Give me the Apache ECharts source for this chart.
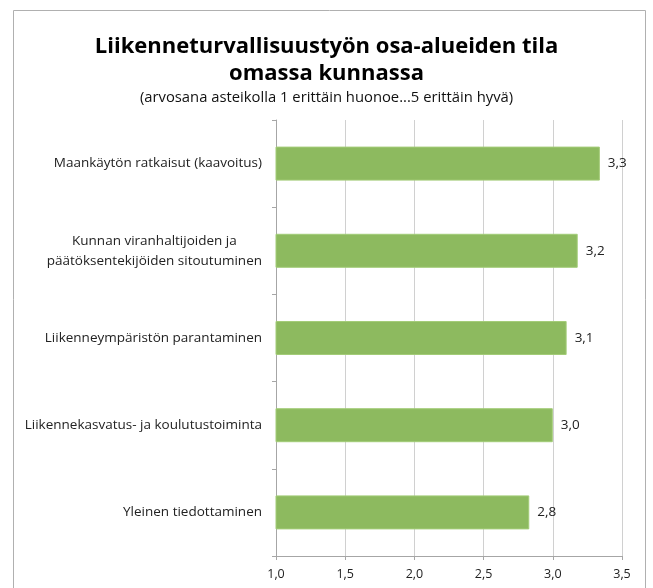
<!DOCTYPE html>
<html><head><meta charset="utf-8">
<script src="https://cdn.jsdelivr.net/npm/echarts@6/dist/echarts.min.js"></script>
<style>html,body{margin:0;padding:0;background:#fff}#c{width:653px;height:588px}</style>
</head><body><div id="c"></div>
<script>
const categories = [
  'Maankäytön ratkaisut (kaavoitus)',
  'Kunnan viranhaltijoiden ja\npäätöksentekijöiden sitoutuminen',
  'Liikenneympäristön parantaminen',
  'Liikennekasvatus- ja koulutustoiminta',
  'Yleinen tiedottaminen'
];
const values = [3.34, 3.18, 3.10, 3.00, 2.83];
const xTicks = [1.0, 1.5, 2.0, 2.5, 3.0, 3.5];

const fmt = v => v.toFixed(1).replace('.', ',');
const FONT = 'Open Sans';

const chart = echarts.init(document.getElementById('c'), null, {renderer: 'canvas'});
chart.setOption({
  animation: false,
  backgroundColor: '#fff',
  graphic: [{
    type: 'rect', shape: {x: 13.5, y: 10.5, width: 632, height: 600},
    style: {fill: 'none', stroke: '#b0b0b0', lineWidth: 1}, silent: true, z: -1
  }],
  title: [
    {text: 'Liikenneturvallisuustyön osa-alueiden tila\nomassa kunnassa', left: 'center', top: 28,
     textStyle: {fontFamily: FONT, fontWeight: 'bold', fontSize: 22, lineHeight: 27, color: '#000'}},
    {text: '(arvosana asteikolla 1 erittäin huonoe...5 erittäin hyvä)', left: 'center', top: 85,
     textStyle: {fontFamily: FONT, fontWeight: 'normal', fontSize: 14.8, color: '#111'}}
  ],
  grid: {left: 276, right: 31, top: 120, bottom: 32, containLabel: false},
  xAxis: {
    type: 'value', min: xTicks[0], max: xTicks[xTicks.length - 1], interval: 0.5,
    axisLine: {show: true, lineStyle: {color: '#a6a6a6'}},
    axisTick: {show: true, length: 4, lineStyle: {color: '#a6a6a6'}},
    splitLine: {show: true, lineStyle: {color: '#d0d0d0', width: 1}},
    axisLabel: {formatter: v => fmt(v), fontFamily: FONT, fontSize: 12.5, color: '#222', margin: 12}
  },
  yAxis: {
    type: 'category', data: categories, inverse: true,
    axisLine: {show: true, lineStyle: {color: '#a6a6a6'}},
    axisTick: {show: true, length: 4, lineStyle: {color: '#a6a6a6'}},
    splitLine: {show: false},
    axisLabel: {
      fontFamily: FONT, fontSize: 13.5, color: '#222', margin: 14, lineHeight: 20,
      formatter: s => s.split('\n').map(l => '{c|' + l + '}').join('\n'),
      rich: {c: {align: 'center', fontFamily: FONT, fontSize: 13.5, color: '#222', lineHeight: 20}}
    }
  },
  series: [{
    type: 'bar', data: values, barCategoryGap: '61%',
    itemStyle: {color: '#8dba5f', borderColor: '#a3cc78', borderWidth: 1},
    label: {show: true, position: 'right', distance: 8, formatter: p => fmt(p.value),
      fontFamily: FONT, fontSize: 13.5, color: '#222'}
  }]
});
</script></body></html>
